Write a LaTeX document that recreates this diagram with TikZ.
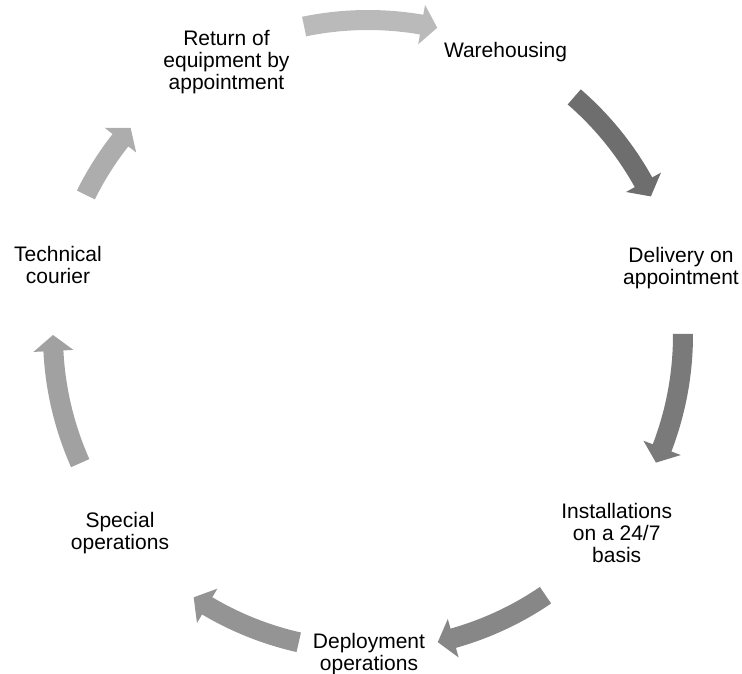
\documentclass[tikz,border=0pt]{standalone}
\usepackage{fontspec}
\setmainfont{Liberation Sans}
\begin{document}
\begin{tikzpicture}[x=1pt,y=1pt,
    steplabel/.style={align=center,font=\fontsize{21}{21.7}\selectfont}]
      \useasboundingbox (-368,-339) rectangle (374,335);
      \def \Steps {
        ware/137.5/283/{Warehousing},
        deliv/313/67/{Delivery on\\appointment},
        inst/248.7/-198/{Installations\\on a 24/7\\basis},
        deploy/1/-319/{Deployment\\operations},
        special/-248/-198/{Special\\operations},
        courier/-310/70/{Technical\\courier},
        return/-141.5/273/{Return of\\equipment by\\appointment}}
      \def \Arcs {
        101.7/77.3/black!27,
        49.1/26.1/black!57,
        0.2/-23.9/black!52,
        -55.7/-77.2/black!47,
        -102.7/-123.6/black!42,
        -156/-180/black!37,
        153.6/138.9/black!32}

      \foreach \id / \x / \y / \txt in \Steps {
        \node[steplabel] (\id) at (\x, \y) {\txt};
      }
      \foreach \from / \to / \tone in \Arcs {
        \pgfmathsetmacro\base{\to+2.9}
        \fill[\tone] (\from:305) arc[start angle=\from,end angle=\base,radius=305]
          -- (\base:295) -- (\to:315) -- (\base:335) -- (\base:325)
          arc[start angle=\base,end angle=\from,radius=325] -- cycle;
      }
    \end{tikzpicture}
\end{document}
